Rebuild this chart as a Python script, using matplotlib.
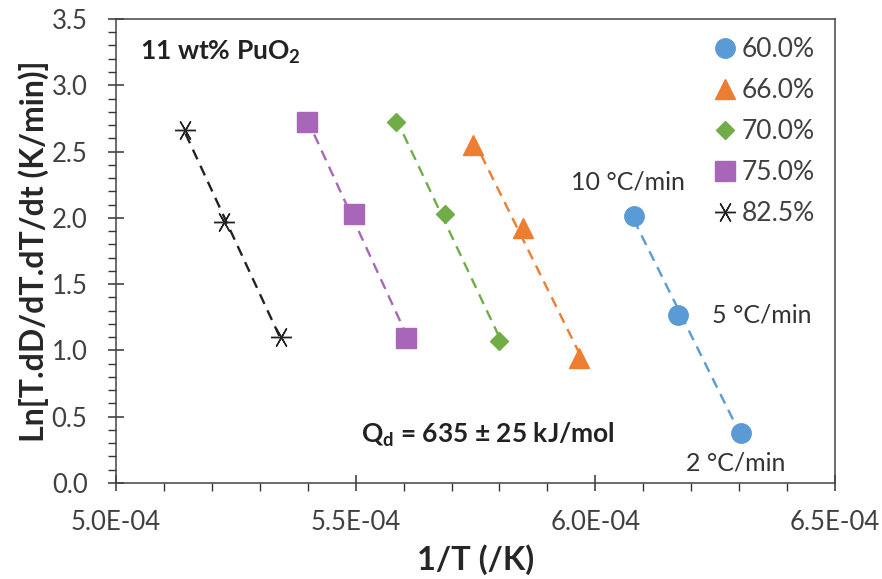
import numpy as np
import matplotlib
matplotlib.use("agg")
import matplotlib.pyplot as plt
from matplotlib.ticker import MultipleLocator, FormatStrFormatter, FuncFormatter

plt.rcParams["font.family"] = ["Lato", "DejaVu Sans"]

# ---- data ----
labels = ["60.0%", "66.0%", "70.0%", "75.0%", "82.5%"]
inv_T = [
    [6.080e-4, 6.173e-4, 6.303e-4],
    [5.745e-4, 5.850e-4, 5.966e-4],
    [5.584e-4, 5.686e-4, 5.800e-4],
    [5.398e-4, 5.497e-4, 5.606e-4],
    [5.145e-4, 5.225e-4, 5.344e-4],
]
ln_rate = [
    [2.01, 1.27, 0.38],
    [2.55, 1.92, 0.94],
    [2.72, 2.03, 1.07],
    [2.72, 2.03, 1.09],
    [2.66, 1.97, 1.10],
]
rate_labels = ["10 °C/min", "5 °C/min", "2 °C/min"]

colors = ["#5B9BD5", "#ED7D31", "#70AD47", "#A866B8", "#222222"]
markers = ["o", "^", "D", "s", (6, 2, 30)]
msizes = [14, 15, 9.5, 14, 15]

TXT = "#404040"

fig = plt.figure(figsize=(8.82, 5.79), dpi=100)
ax = fig.add_axes([0.1315, 0.166, 0.8152, 0.8012])

for xs, ys, c, m, ms, lab in zip(inv_T, ln_rate, colors, markers, msizes, labels):
    xs = np.array(xs)
    ys = np.array(ys)
    k, b = np.polyfit(xs, ys, 1)
    xl = np.array([xs.min(), xs.max()])
    ax.plot(xl, k * xl + b, color=c, lw=1.7, ls=(0, (4.5, 3)), zorder=2)
    if isinstance(m, tuple):
        ax.plot(xs, ys, ls="none", marker=m, ms=ms, color=c, mew=1.0,
                label=lab, zorder=3)
    else:
        ax.plot(xs, ys, ls="none", marker=m, ms=ms, color=c, mec=c,
                label=lab, zorder=3)

ax.set_xlim(5.0e-4, 6.5e-4)
ax.set_ylim(0, 3.5)
ax.xaxis.set_major_locator(MultipleLocator(0.5e-4))
ax.xaxis.set_minor_locator(MultipleLocator(0.1e-4))
ax.yaxis.set_major_locator(MultipleLocator(0.5))
ax.yaxis.set_minor_locator(MultipleLocator(0.1))
ax.xaxis.set_major_formatter(FuncFormatter(lambda v, p: "%.1E" % v))
ax.yaxis.set_major_formatter(FormatStrFormatter("%.1f"))

ax.tick_params(which="major", direction="inout", length=11, width=1.1, colors="#333333",
               labelsize=18.5, labelcolor=TXT)
ax.tick_params(axis="x", which="major", pad=14)
ax.tick_params(axis="y", which="major", pad=15)
ax.tick_params(which="minor", direction="out", length=6, width=1.0, colors="#333333")
for s in ax.spines.values():
    s.set_color("#444444")
    s.set_linewidth(1.1)

ax.set_xlabel("1/T (/K)", fontsize=23.5, fontweight="bold", color="#262626", labelpad=7)
ax.set_ylabel("Ln[T.dD/dT.dT/dt (K/min)]", fontsize=23, fontweight="bold",
              color="#262626", labelpad=2)

leg = ax.legend(loc="upper right", frameon=False, fontsize=19, handlelength=0.7,
                handletextpad=0.3, labelspacing=0.6, borderaxespad=0.3,
                bbox_to_anchor=(0.998, 1.0))
for t in leg.get_texts():
    t.set_color(TXT)

ax.text(0.033, 0.929, "11 wt% PuO$_\\mathregular{2}$", transform=ax.transAxes,
        fontsize=19, fontweight="bold", color="#222222", va="center")
ax.text(0.517, 0.103, "Q$_\\mathregular{d}$ = 635 ± 25 kJ/mol", transform=ax.transAxes,
        fontsize=19, fontweight="bold", color="#222222", ha="center", va="center")

bx, by = inv_T[0], ln_rate[0]
ax.text(bx[0] - 0.012e-4, by[0] + 0.26, rate_labels[0], fontsize=18, color="#333333",
        ha="center", va="center")
ax.text(bx[1] + 0.07e-4, by[1], rate_labels[1], fontsize=18, color="#333333",
        ha="left", va="center")
ax.text(bx[2] - 0.01e-4, by[2] - 0.23, rate_labels[2], fontsize=18, color="#333333",
        ha="center", va="center")

fig.savefig("out.png", dpi=100, facecolor="white")
